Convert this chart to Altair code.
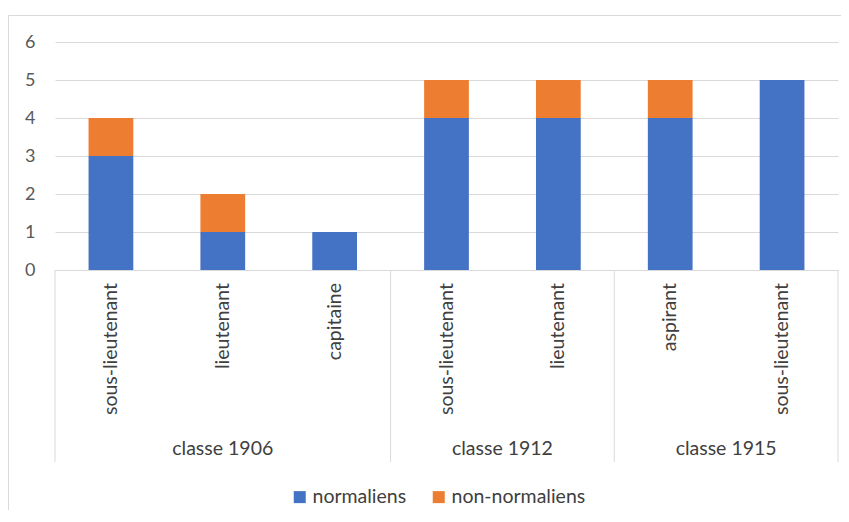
import altair as alt
import pandas as pd

groups = ["classe 1906", "classe 1906", "classe 1906", "classe 1912", "classe 1912", "classe 1915", "classe 1915"]
grades = ["sous-lieutenant", "lieutenant", "capitaine", "sous-lieutenant", "lieutenant", "aspirant", "sous-lieutenant"]
normaliens = [3, 1, 1, 4, 4, 4, 5]
non_normaliens = [1, 1, 0, 1, 1, 1, 0]
series = ["normaliens", "non-normaliens"]
colors = ["#4472C4", "#ED7D31"]
y_ticks = [0, 1, 2, 3, 4, 5, 6]

FONT = "Lato"
GRID = "#d9d9d9"
TXT = "#404040"
FS = 19.5

keys = [f"{i}|{g}|{c}" for i, (g, c) in enumerate(zip(groups, grades))]
rows = []
for k, n, nn in zip(keys, normaliens, non_normaliens):
    rows.append({"key": k, "series": series[0], "value": n, "ord": 0})
    rows.append({"key": k, "series": series[1], "value": nn, "ord": 1})
df = pd.DataFrame(rows)
cat_df = pd.DataFrame({"key": keys, "grade": grades})

# group boundaries in category-index units
grp_names, grp_start, grp_end = [], [], []
for i, g in enumerate(groups):
    if not grp_names or grp_names[-1] != g:
        grp_names.append(g)
        grp_start.append(i)
        grp_end.append(i + 1)
    else:
        grp_end[-1] = i + 1
bounds_df = pd.DataFrame({"b": [grp_start[0]] + grp_end})
grp_df = pd.DataFrame({"group": grp_names,
                       "mid": [(s + e) / 2 for s, e in zip(grp_start, grp_end)]})

n = len(keys)
H = 228

xband = alt.X("key:N", sort=keys,
              scale=alt.Scale(paddingInner=0.6, paddingOuter=0.3),
              axis=alt.Axis(labels=False, ticks=False, title=None, grid=False,
                            domainColor=GRID, domainWidth=1))

bars = alt.Chart(df).mark_bar().encode(
    x=xband,
    y=alt.Y("value:Q", stack="zero",
            scale=alt.Scale(domain=[0, 6], nice=False),
            axis=alt.Axis(values=y_ticks, grid=True, gridColor=GRID, domain=False,
                          ticks=False, labelPadding=20, labelFontSize=18,
                          labelColor="#595959", title=None, format="d")),
    color=alt.Color("series:N", scale=alt.Scale(domain=series, range=colors),
                    legend=alt.Legend(orient="none", legendX=235, legendY=445,
                                      direction="horizontal", title=None,
                                      symbolType="square", symbolSize=144,
                                      symbolStrokeWidth=0,
                                      labelFontSize=FS, labelColor=TXT,
                                      columnPadding=22, labelOffset=3)),
    order=alt.Order("ord:Q"),
)

labels = alt.Chart(cat_df).mark_text(angle=270, align="right", baseline="middle",
                                     fontSize=FS, color=TXT).encode(
    x=alt.X("key:N", sort=keys),
    y=alt.value(H + 13),
    text="grade:N",
)

xq = alt.Scale(domain=[0, n], nice=False, zero=False)

rules = alt.Chart(bounds_df).mark_rule(color=GRID, strokeWidth=1).encode(
    x=alt.X("b:Q", scale=xq, axis=None),
    y=alt.value(H),
    y2=alt.value(H + 192),
)

gtext = alt.Chart(grp_df).mark_text(fontSize=FS, color=TXT, baseline="middle").encode(
    x=alt.X("mid:Q", scale=xq, axis=None),
    y=alt.value(H + 179),
    text="group:N",
)

frame = alt.Chart(pd.DataFrame({"d": [0]})).mark_rect(
    fillOpacity=0, stroke=GRID, strokeWidth=1).encode(
    x=alt.value(-46.5), x2=alt.value(830),
    y=alt.value(-26.5), y2=alt.value(520),
)

chart = alt.layer(
    alt.layer(bars, labels),
    alt.layer(frame, rules, gtext),
).resolve_scale(x="independent", color="independent").properties(
    width=783, height=H,
    padding={"left": 47, "top": 34, "right": 3, "bottom": 240},
    autosize=alt.AutoSizeParams(type="none"),
).configure(font=FONT).configure_view(stroke=None)

chart.save("out.html", embed_options={"renderer": "svg", "actions": False})
